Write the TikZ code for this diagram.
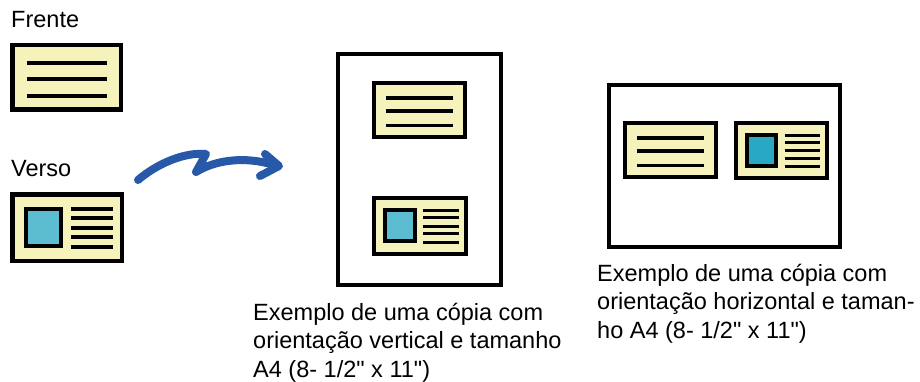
\documentclass[tikz,border=0pt]{standalone}
\usepackage{fontspec}
\newfontfamily\lsans{Liberation Sans}
\definecolor{cardfill}{RGB}{245,243,187}
\definecolor{photoA}{RGB}{92,189,208}
\definecolor{photoB}{RGB}{40,168,196}
\definecolor{arrowblue}{RGB}{40,88,168}
\tikzset{
  cardborder/.style={draw=black,line width=4.5pt,fill=cardfill},
  cardline/.style={draw=black,line width=3.6pt},
  cardlinefive/.style={draw=black,line width=3.2pt},
  photobox/.style={draw=black,line width=4pt,fill=#1},
  pageborder/.style={draw=black,line width=4pt,fill=white},
  lbl/.style={inner sep=0pt,font=\lsans\fontsize{23.5pt}{28.5pt}\selectfont,align=left},
  frontcard/.pic={
    \draw[cardborder] (2.25,2.25) rectangle (110.75,66.75);
    \foreach \yy in {20,36,53} \draw[cardline] (17,\yy) -- (97,\yy);
  },
  backcard/.pic={
    \draw[cardborder] (2.25,2.25) rectangle (111.75,68.75);
    \draw[photobox=\photocol] (16,17) rectangle (51,54);
    \foreach \yy in {17,26,36,45,55} \draw[cardlinefive] (61,\yy) -- (103,\yy);
  }
}
\begin{document}
\begin{tikzpicture}[x=1pt,y=-1pt]
\useasboundingbox (0,0) rectangle (920,382);
% labels
\node[lbl,anchor=base west] (frente) at (11,28) {Frente};
\node[lbl,anchor=base west] (verso) at (11,177) {Verso};
% originals
\def\photocol{photoA}
\pic at (10,43) {frontcard};
\pic at (10,192) {backcard};
% arrow
\draw[arrowblue,line width=8pt,line cap=round,line join=round]
  (138,180) .. controls (158,163) and (185,152) .. (206,154)
  -- (196,172) .. controls (215,160) and (245,156) .. (274,165);
\draw[arrowblue,line width=8pt,line cap=round,line join=round]
  (265,154) -- (279,166) -- (260,176);
% vertical page
\draw[pageborder] (338,54) rectangle (501,285);
\pic[scale=0.84] at (372,81) {frontcard};
\pic[scale=0.84] at (372,196) {backcard};
% horizontal page
\def\photocol{photoB}
\draw[pageborder] (609,85) rectangle (840,247);
\pic[scale=0.84] at (623,121) {frontcard};
\pic[scale=0.83] at (734,121) {backcard};
% captions
\node[lbl,anchor=base west] (capv) at (253,377) {Exemplo de uma cópia com\\orientação vertical e tamanho\\A4 (8- 1/2" x 11")};
\node[lbl,anchor=base west] (caph) at (597,338) {Exemplo de uma cópia com\\orientação horizontal e taman-\\ho A4 (8- 1/2" x 11")};
\end{tikzpicture}
\end{document}
